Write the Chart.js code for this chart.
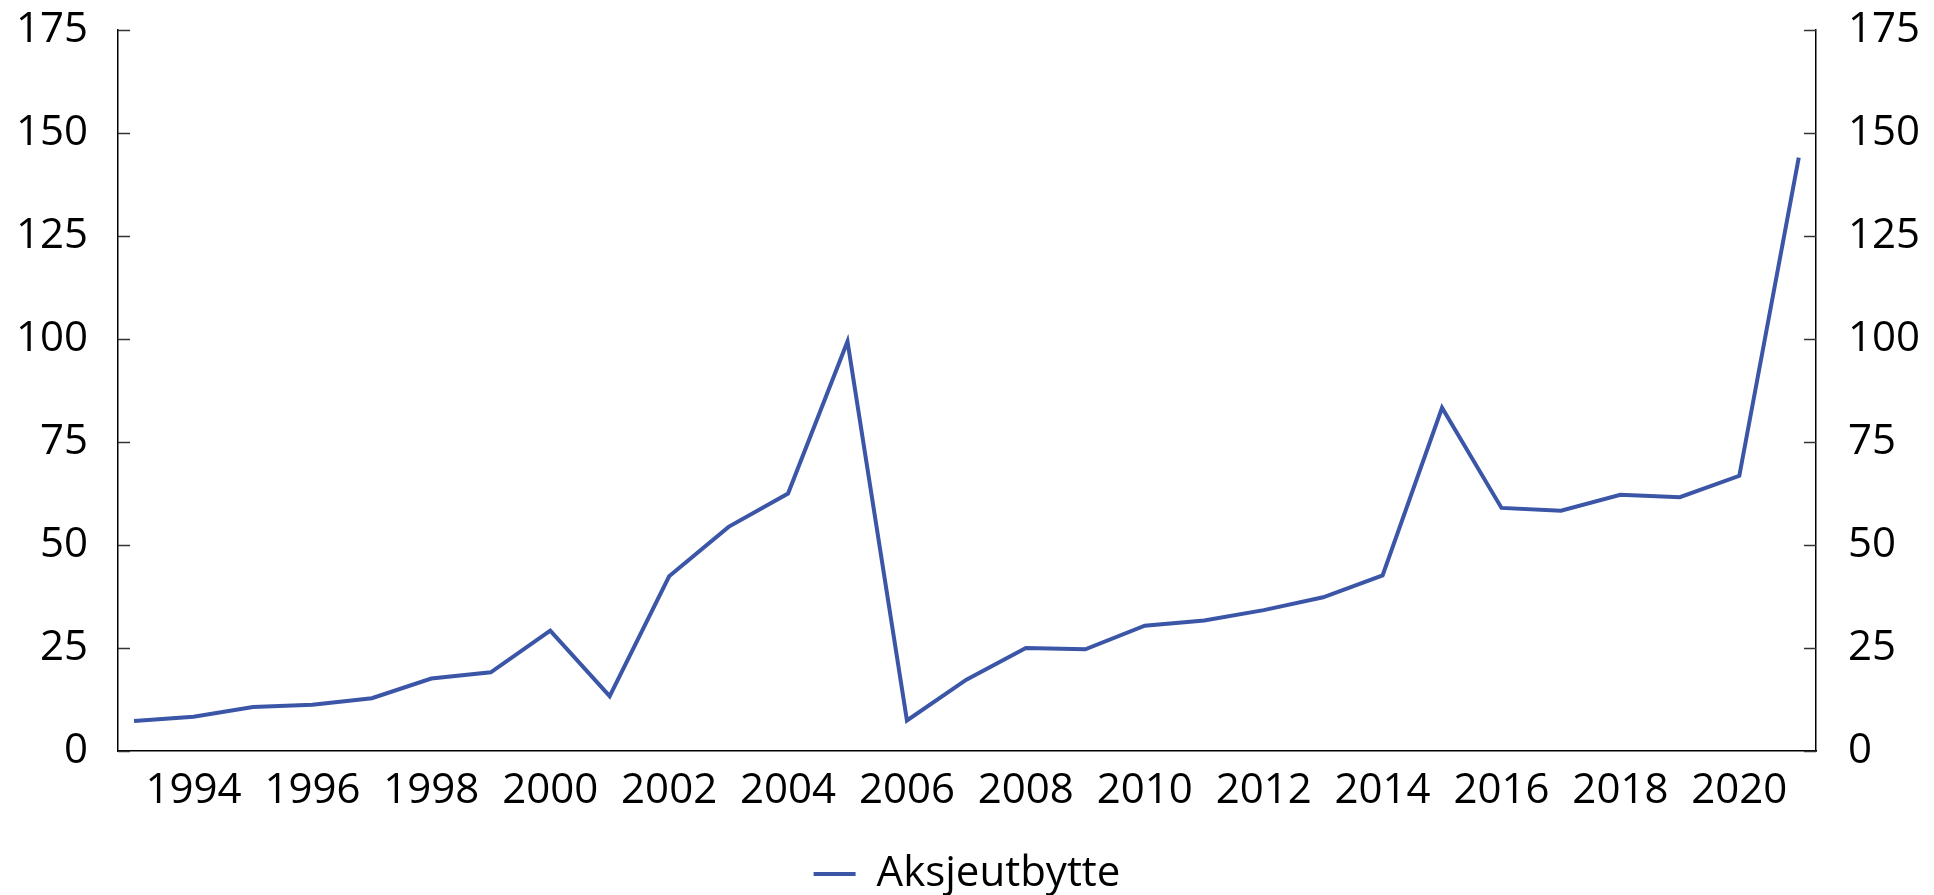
<!DOCTYPE html>
<html>
<head>
<meta charset="utf-8">
<script src="https://cdn.jsdelivr.net/npm/chart.js@4.4.1/dist/chart.umd.min.js"></script>
<style>
html,body{margin:0;padding:0;background:#fff;}
#wrap{width:1934px;height:895px;}
</style>
</head>
<body>
<div id="wrap"><canvas id="c" width="1934" height="895"></canvas></div>
<script>
const years = [1993,1994,1995,1996,1997,1998,1999,2000,2001,2002,2003,2004,2005,2006,2007,2008,2009,2010,2011,2012,2013,2014,2015,2016,2017,2018,2019,2020,2021];
const aksjeutbytte = [7.3,8.3,10.7,11.2,12.8,17.6,19.1,29.2,13.3,42.4,54.4,62.5,99.4,7.4,17.3,25.0,24.7,30.4,31.7,34.2,37.3,42.6,83.3,59.0,58.3,62.2,61.6,66.8,144.0];
const xTickYears = [1994,1996,1998,2000,2002,2004,2006,2008,2010,2012,2014,2016,2018,2020];
const yTickValues = [0,25,50,75,100,125,150,175];
const seriesLabel = 'Aksjeutbytte';

const FONT = '"Open Sans", "Noto Sans", sans-serif';
const COLOR = '#3B55A7';

const innerTicks = {
  id: 'innerTicks',
  afterDraw(chart) {
    const ctx = chart.ctx;
    const area = chart.chartArea;
    ctx.save();
    ctx.strokeStyle = '#333';
    ctx.lineWidth = 1.5;
    ['y', 'y2'].forEach(id => {
      const s = chart.scales[id];
      s.ticks.forEach(t => {
        const py = Math.round(s.getPixelForValue(t.value)) + 0.5;
        ctx.beginPath();
        if (id === 'y') { ctx.moveTo(area.left, py); ctx.lineTo(area.left + 12, py); }
        else { ctx.moveTo(area.right, py); ctx.lineTo(area.right - 12, py); }
        ctx.stroke();
      });
    });
    ctx.restore();
  }
};

function build() {
  const tickFont = { family: FONT, size: 42 };
  const yCommon = (w, pad) => ({
    type: 'linear', min: 0, max: 175,
    afterBuildTicks: s => { s.ticks = yTickValues.map(v => ({ value: v })); },
    afterFit: s => { s.width = w; s.paddingTop = 0; s.paddingBottom = 0; },
    grid: { display: true, drawOnChartArea: false, drawTicks: false },
    border: { display: true, color: '#000', width: 1.5 },
    ticks: { font: tickFont, color: '#000', padding: pad }
  });
  new Chart(document.getElementById('c'), {
    type: 'line',
    data: {
      datasets: [{
        label: seriesLabel,
        data: years.map((y, i) => ({ x: y, y: aksjeutbytte[i] })),
        borderColor: COLOR,
        backgroundColor: COLOR,
        borderWidth: 4,
        pointRadius: 0,
        tension: 0,
        yAxisID: 'y'
      }]
    },
    options: {
      responsive: false,
      animation: false,
      layout: { padding: { left: 0, right: 0, top: 30, bottom: -10 } },
      plugins: {
        tooltip: { enabled: false },
        legend: {
          position: 'bottom',
          labels: {
            font: { family: FONT, size: 42 },
            color: '#000',
            boxWidth: 42,
            boxHeight: 4,
            padding: 4,
            generateLabels: chart => chart.data.datasets.map((d, i) => ({
              text: d.label, fillStyle: d.borderColor, strokeStyle: d.borderColor,
              lineWidth: 0, hidden: false, datasetIndex: i, fontColor: '#000'
            }))
          }
        }
      },
      scales: {
        x: {
          type: 'linear', min: 1992.73, max: 2021.29,
          afterBuildTicks: s => { s.ticks = xTickYears.map(v => ({ value: v })); },
          afterFit: s => { s.height = 98; s.paddingLeft = 0; s.paddingRight = 0; },
          grid: { display: false, drawTicks: false },
          border: { display: true, color: '#000', width: 1.5 },
          ticks: { font: tickFont, color: '#000', padding: 15, maxRotation: 0, autoSkip: false,
                    callback: v => String(v) }
        },
        y: Object.assign(yCommon(118, 30), { position: 'left' }),
        y2: Object.assign(yCommon(118, 32), { position: 'right' })
      }
    },
    plugins: [innerTicks]
  });
}

if (document.fonts && document.fonts.load) {
  document.fonts.load('42px "Open Sans"').then(build, build);
} else { build(); }
</script>
</body>
</html>
